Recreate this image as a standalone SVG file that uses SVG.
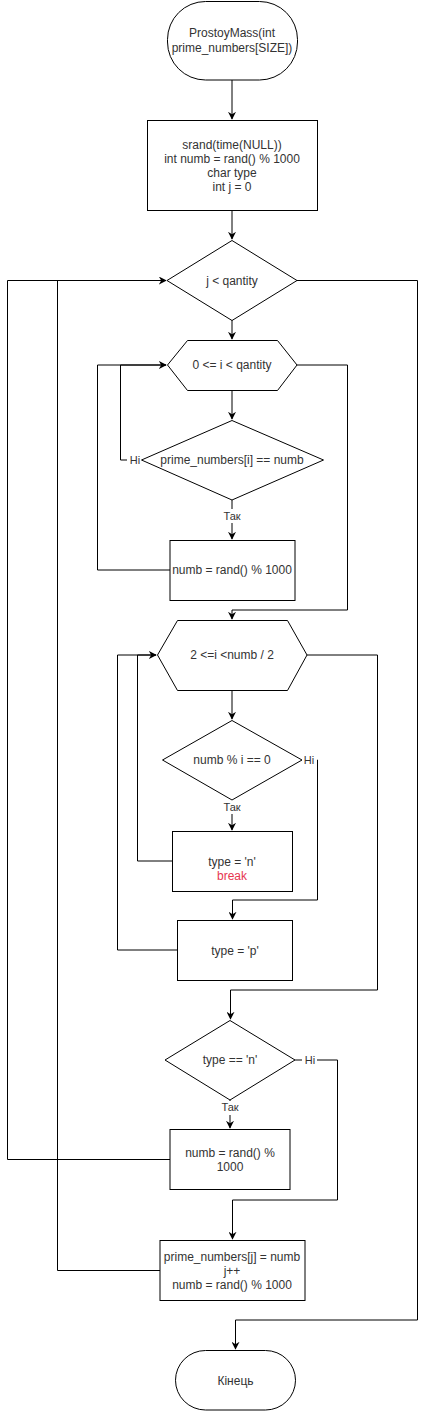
<svg xmlns="http://www.w3.org/2000/svg" width="426" height="1411" viewBox="0 0 426 1411">
<style>
.s{fill:#fff;stroke:#000;stroke-width:1}
.c{fill:none;stroke:#000;stroke-width:1}
text{font-family:"Liberation Sans",Arial,sans-serif;font-size:12px;fill:#333;text-anchor:middle}
.l{font-size:11px}
.bg{fill:#fff}
</style>
<defs>
<marker id="a" viewBox="0 0 10 10" refX="9" refY="5" markerWidth="8" markerHeight="8" markerUnits="userSpaceOnUse" orient="auto">
<path d="M0,0 L10,5 L0,10 L3,5 Z" fill="#000"/>
</marker>
</defs>
<rect width="426" height="1411" fill="#fff"/>
<g id="connectors">
<path class="c" d="M232,80 V119" marker-end="url(#a)"/>
<path class="c" d="M232,210 V239" marker-end="url(#a)"/>
<path class="c" d="M232,320 V339" marker-end="url(#a)"/>
<path class="c" d="M232,390 V419" marker-end="url(#a)"/>
<path class="c" d="M232,500 V539" marker-end="url(#a)"/>
<path class="c" d="M141,460 H120.5 V365 H166" marker-end="url(#a)"/>
<path class="c" d="M170,570 H97.5 V365 H166"/>
<path class="c" d="M297,365 H347.5 V610 H232 V619" marker-end="url(#a)"/>
<path class="c" d="M232,690 V719" marker-end="url(#a)"/>
<path class="c" d="M232,800 V830" marker-end="url(#a)"/>
<path class="c" d="M172,861 H137.5 V655 H156" marker-end="url(#a)"/>
<path class="c" d="M177,950 H117.5 V655 H156"/>
<path class="c" d="M302,760 H317.5 V900 H232.5 V919" marker-end="url(#a)"/>
<path class="c" d="M307,655 H377.5 V990 H230.5 V1019" marker-end="url(#a)"/>
<path class="c" d="M230,1100 V1128" marker-end="url(#a)"/>
<path class="c" d="M295,1060 H337.5 V1200 H232.5 V1239" marker-end="url(#a)"/>
<path class="c" d="M170,1159.5 H7.5 V280.5 H166" marker-end="url(#a)"/>
<path class="c" d="M160,1270.5 H57.5 V280.5"/>
<path class="c" d="M297,280.5 H417.5 V1320 H235.5 V1349" marker-end="url(#a)"/>
<rect class="bg" x="127" y="453" width="16" height="14"/>
<text class="l" x="135" y="464">Ні</text>
<rect class="bg" x="221" y="509" width="23" height="14"/>
<text class="l" x="232" y="520">Так</text>
<rect class="bg" x="302" y="753" width="15" height="14"/>
<text class="l" x="309" y="764">Ні</text>
<rect class="bg" x="221" y="800" width="23" height="14"/>
<text class="l" x="232" y="811">Так</text>
<rect class="bg" x="302" y="1053" width="15" height="14"/>
<text class="l" x="310" y="1064">Ні</text>
<rect class="bg" x="219" y="1101" width="23" height="14"/>
<text class="l" x="230" y="1111">Так</text>
</g>
<g id="start">
<rect class="s" x="167.5" y="1.5" width="130" height="78.5" rx="38" ry="38"/>
<text x="232" y="37">ProstoyMass(int</text>
<text x="232" y="52">prime_numbers[SIZE])</text>
</g>
<g id="init">
<rect class="s" x="147.5" y="120.5" width="170" height="90"/>
<text x="232" y="149">srand(time(NULL))</text>
<text x="232" y="163">int numb = rand() % 1000</text>
<text x="232" y="177">char type</text>
<text x="232" y="191">int j = 0</text>
</g>
<g id="loopJ">
<path class="s" d="M232,240.5 L297,280.5 L232,320.5 L167,280.5 Z"/>
<text x="232" y="285">j &lt; qantity</text>
</g>
<g id="loopI1">
<path class="s" d="M187.5,340.5 H277.5 L297,365 L277.5,390.5 H187.5 L167.5,365 Z"/>
<text x="232" y="369">0 &lt;= i &lt; qantity</text>
</g>
<g id="checkEq">
<path class="s" d="M232,420.5 L323.5,460 L232,500 L141.5,460 Z"/>
<text x="232" y="464">prime_numbers[i] == numb</text>
</g>
<g id="regen1">
<rect class="s" x="170" y="540.5" width="125" height="60"/>
<text x="232" y="574">numb = rand() % 1000</text>
</g>
<g id="loopI2">
<path class="s" d="M177.5,620.5 H287.5 L307,655 L287.5,690.5 H177.5 L157.5,655 Z"/>
<text x="232" y="659">2 &lt;=i &lt;numb / 2</text>
</g>
<g id="checkMod">
<path class="s" d="M232,720.5 L302,760 L232,800 L162.5,760 Z"/>
<text x="232" y="764">numb % i == 0</text>
</g>
<g id="typeN">
<rect class="s" x="172.5" y="831.5" width="120" height="60"/>
<text x="232" y="866">type = 'n'</text>
<text x="232" y="880" style="fill:#e6364f">break</text>
</g>
<g id="typeP">
<rect class="s" x="177.5" y="920.5" width="115" height="60"/>
<text x="235" y="955">type = 'p'</text>
</g>
<g id="checkType">
<path class="s" d="M230,1020.5 L295,1060 L230,1100 L165,1060 Z"/>
<text x="230" y="1064">type == 'n'</text>
</g>
<g id="regen2">
<rect class="s" x="170" y="1129.5" width="120" height="60"/>
<text x="230" y="1157">numb = rand() %</text>
<text x="230" y="1171">1000</text>
</g>
<g id="store">
<rect class="s" x="160" y="1240.5" width="145" height="60"/>
<text x="232" y="1261">prime_numbers[j] = numb</text>
<text x="232" y="1275">j++</text>
<text x="232" y="1289">numb = rand() % 1000</text>
</g>
<g id="end">
<rect class="s" x="175.5" y="1350.5" width="120" height="59.5" rx="30" ry="30"/>
<text x="235.5" y="1385">Кінець</text>
</g>
</svg>
